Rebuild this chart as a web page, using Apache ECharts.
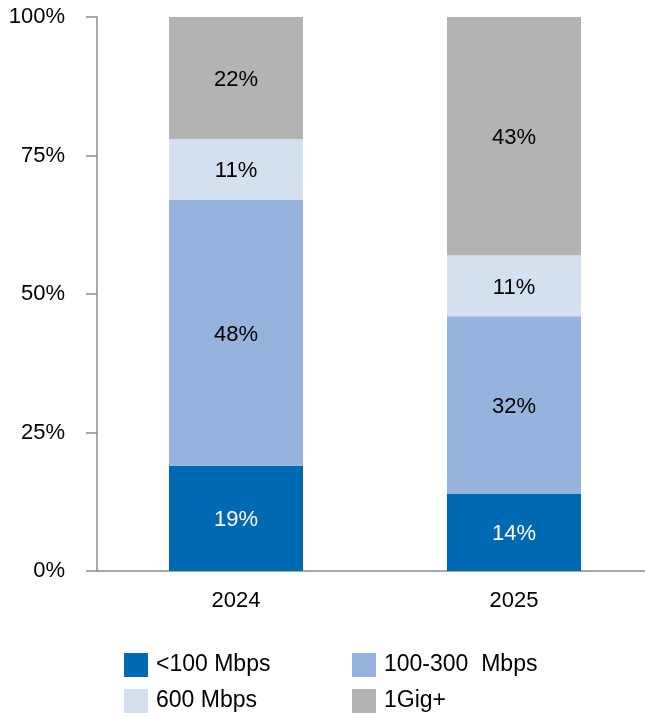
<!DOCTYPE html>
<html>
<head>
<meta charset="utf-8">
<script src="https://cdn.jsdelivr.net/npm/echarts@6/dist/echarts.min.js"></script>
<style>
  html, body { margin: 0; padding: 0; background: #fff; }
  #chart { width: 645px; height: 719px; }
</style>
</head>
<body>
<div id="chart"></div>
<script>
const years = ['2024', '2025']
const seriesNames = ['<100 Mbps', '100-300  Mbps', '600 Mbps', '1Gig+']
const below100 = [19, 14]
const mid100to300 = [48, 32]
const mbps600 = [11, 11]
const gigPlus = [22, 43]
const yTicks = [0, 25, 50, 75, 100]

const colors = ['#0069b4', '#95b3dc', '#d4dfef', '#b3b3b3']
const labelColors = ['#ffffff', '#000000', '#000000', '#000000']
const values = [below100, mid100to300, mbps600, gigPlus]
const font = 'Liberation Sans, Arial, sans-serif'

const chart = echarts.init(document.getElementById('chart'))

// one legend per item so they sit in a 2x2 grid
const legendPos = [
  { left: 124, top: 653 },
  { left: 352, top: 653 },
  { left: 124, top: 689 },
  { left: 352, top: 689 }
]

chart.setOption({
  animation: false,
  grid: {
    left: 97,
    top: 17,
    right: -8,
    bottom: 148,
    outerBoundsMode: 'none'
  },
  legend: seriesNames.map((name, i) => ({
    data: [name],
    left: legendPos[i].left,
    top: legendPos[i].top,
    icon: 'rect',
    itemWidth: 24,
    itemHeight: 24,
    itemGap: 0,
    padding: 0,
    textStyle: { fontSize: 23, color: '#000', fontFamily: font, padding: [0, 0, 0, 3] }
  })),
  xAxis: {
    type: 'category',
    data: years,
    axisLine: { lineStyle: { color: '#8c8c8c', width: 1.5 } },
    axisTick: { alignWithLabel: true, length: 10, lineStyle: { color: '#8c8c8c', width: 1.5 } },
    axisLabel: { fontSize: 22, color: '#000', fontFamily: font, margin: 19 }
  },
  yAxis: {
    type: 'value',
    min: 0,
    max: 100,
    interval: 25,
    axisLine: { show: true, lineStyle: { color: '#8c8c8c', width: 1.5 } },
    axisTick: { show: true, inside: false, length: 11, lineStyle: { color: '#8c8c8c', width: 1.5 } },
    splitLine: { show: false },
    axisLabel: {
      fontSize: 22,
      color: '#000',
      fontFamily: font,
      margin: 32,
      formatter: v => (yTicks.includes(v) ? v + '%' : '')
    }
  },
  series: seriesNames.map((name, i) => ({
    name: name,
    type: 'bar',
    stack: 'total',
    barWidth: 134,
    data: values[i],
    itemStyle: { color: colors[i] },
    label: {
      show: true,
      position: 'inside',
      formatter: '{c}%',
      fontSize: 22,
      color: labelColors[i],
      fontFamily: font,
      offset: [0, 2]
    }
  }))
})
</script>
</body>
</html>
